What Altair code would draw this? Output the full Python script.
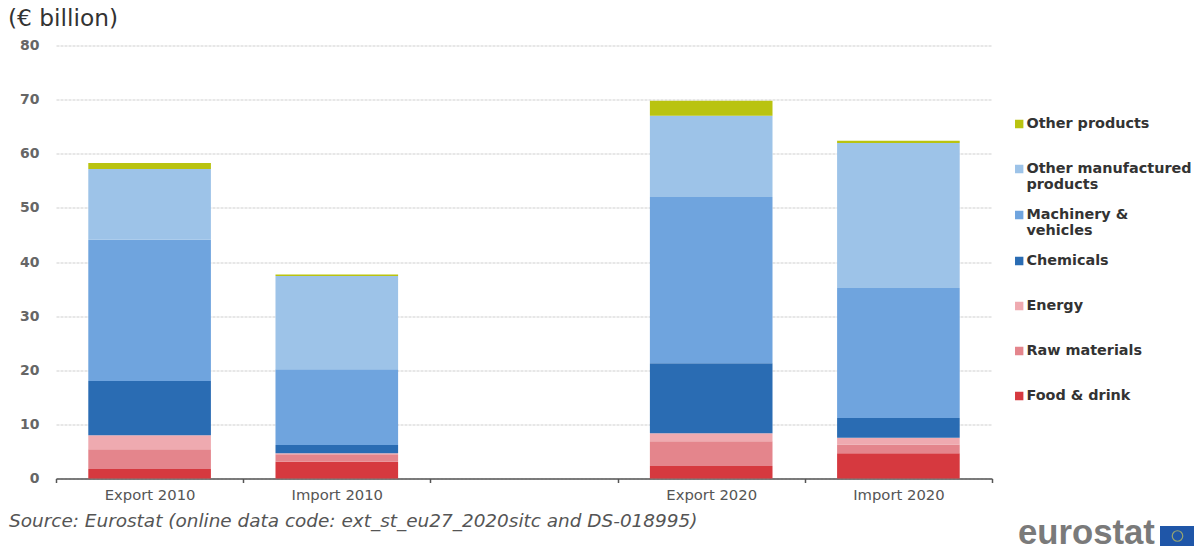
import altair as alt
import pandas as pd

categories = ["Export 2010", "Import 2010", " ", "Export 2020", "Import 2020"]
stack_order = ["Food & drink", "Raw materials", "Energy", "Chemicals", "Machinery & vehicles",
               "Other manufactured products", "Other products"]
legend_order = stack_order[::-1]
colors = ["#b9c310", "#9dc3e8", "#6fa4de", "#2a6cb3", "#efaab0", "#e4858c", "#d6393f"]

export_2010 = [1.75, 3.65, 2.6, 10.0, 26.1, 13.1, 1.1]
import_2010 = [3.1, 1.4, 0.15, 1.55, 14.0, 17.2, 0.3]
export_2020 = [2.3, 4.6, 1.45, 12.95, 30.7, 15.0, 2.8]
import_2020 = [4.65, 1.65, 1.25, 3.65, 24.0, 26.8, 0.4]
series = {"Export 2010": export_2010, "Import 2010": import_2010,
          "Export 2020": export_2020, "Import 2020": import_2020}

rows = []
for cat, vals in series.items():
    for i, (name, v) in enumerate(zip(stack_order, vals)):
        rows.append({"category": cat, "product": name, "value": v, "rank": i})
df = pd.DataFrame(rows)

FONT = "DejaVu Sans"
label_expr = ("datum.label == 'Other manufactured products' ? ['Other manufactured', 'products'] : "
              "datum.label == 'Machinery & vehicles' ? ['Machinery &', 'vehicles'] : datum.label")

bars = alt.Chart(df).mark_bar(width=alt.RelativeBandSize(band=0.655)).encode(
    x=alt.X("category:N",
            scale=alt.Scale(domain=categories, paddingInner=0, paddingOuter=0),
            axis=alt.Axis(title=None, labelAngle=0, tickBand="extent", tickSize=4, tickColor="#555555",
                          domainColor="#555555", domainWidth=1.5, tickWidth=1.5, labelColor="#555555",
                          labelFont=FONT, labelFontSize=14.8, labelPadding=5, grid=False)),
    y=alt.Y("value:Q", stack="zero",
            scale=alt.Scale(domain=[0, 80], nice=False),
            axis=alt.Axis(title=None, values=list(range(0, 90, 10)), domain=False, ticks=False,
                          gridColor="#cfcfcf", gridDash=[3, 1], gridWidth=1, labelColor="#666666",
                          labelFont=FONT, labelFontSize=14, labelFontWeight="bold", labelPadding=17)),
    color=alt.Color("product:N",
                    scale=alt.Scale(domain=legend_order, range=colors),
                    legend=alt.Legend(title=None, orient="none", legendX=956, legendY=56,
                                      symbolType="square", symbolSize=70, symbolStrokeWidth=0,
                                      labelExpr=label_expr, labelLimit=300, labelFont=FONT,
                                      labelFontSize=14.4, labelFontWeight="bold", labelColor="#333333",
                                      labelOffset=0, clipHeight=45, rowPadding=0)),
    order=alt.Order("rank:Q", sort="ascending"),
)

one = pd.DataFrame({"k": [0]})
base = alt.Chart(one)
source = base.mark_text(align="left", baseline="alphabetic", font=FONT, fontStyle="italic",
                        fontSize=18.45, color="#555555").encode(
    x=alt.value(-47), y=alt.value(481),
    text=alt.value("Source: Eurostat (online data code: ext_st_eu27_2020sitc and DS-018995)"))
logo_text = base.mark_text(align="left", baseline="alphabetic", font="Liberation Sans", fontWeight="bold",
                           fontSize=34.7, color="#7a7a7a").encode(
    x=alt.value(962), y=alt.value(498), text=alt.value("eurostat"))
flag = base.mark_rect(color="#1f56a8").encode(
    x=alt.value(1104), x2=alt.value(1139), y=alt.value(480.5), y2=alt.value(500.5))
stars = base.mark_point(shape="circle", filled=False, color="#c9c65a", size=110, strokeWidth=1.2).encode(
    x=alt.value(1121.5), y=alt.value(490.5))

chart = alt.layer(bars, source, logo_text, flag, stars).properties(
    width=936, height=433,
    title=alt.TitleParams("(€ billion)", anchor="start", frame="group", dx=-48, offset=7,
                          font=FONT, fontSize=23.3, fontWeight="normal", color="#333333"),
    autosize=alt.AutoSizeParams(type="none"),
    padding={"left": 48, "top": 37.5, "right": 202, "bottom": 69},
    background="white",
).configure_view(stroke=None)

chart.save("out.html", embed_options={"renderer": "svg", "actions": False})
